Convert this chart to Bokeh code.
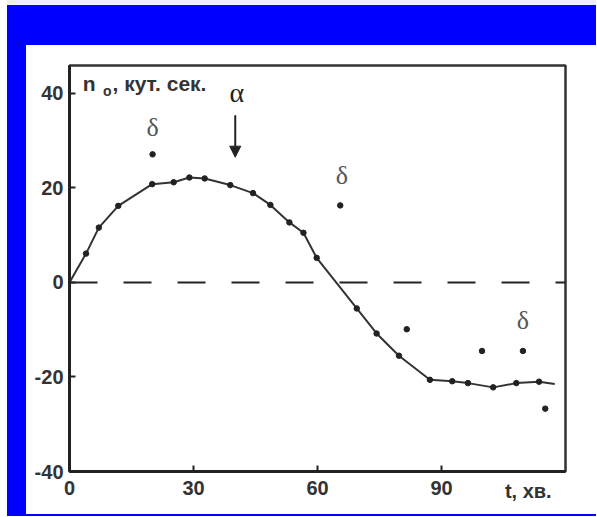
from bokeh.plotting import figure
from bokeh.models import Range1d, FixedTicker, Span, Label, Arrow, NormalHead, Div, LinearAxis
from bokeh.layouts import column, row
from bokeh.embed import file_html
from bokeh.resources import INLINE

# main series (points on the fitted curve), t in minutes, n0 in arc seconds
t_main = [4.0, 7.1, 11.8, 20.0, 25.2, 29.0, 32.7, 38.9, 44.4, 48.6, 53.2, 56.6, 59.8,
          69.5, 74.3, 79.7, 87.2, 92.6, 96.4, 102.5, 108.1, 113.6]
n_main = [6.1, 11.6, 16.2, 20.8, 21.2, 22.2, 22.0, 20.6, 18.9, 16.4, 12.7, 10.5, 5.2,
          -5.5, -10.8, -15.5, -20.6, -20.9, -21.3, -22.2, -21.3, -21.0]
# outlying points
t_out = [20.1, 65.5, 81.6, 99.8, 109.7, 115.1]
n_out = [27.1, 16.3, -9.9, -14.5, -14.5, -26.7]
# fitted curve
curve_t = [0.0] + t_main + [117.4]
curve_n = [0.0] + n_main + [-21.5]

x_ticks = [0, 30, 60, 90]
y_ticks = [-40, -20, 0, 20, 40]
y_tick_labels = {-40: "-40", -20: "-20"}
x_title = "t, хв."
x_title_pos = 111
y_title = "n"
y_title_sub = "o"
y_title_rest = ", кут. сек."

BLUE = "#0000ff"
INK = "#222222"
TXT = "#333333"
SANS = "Liberation Sans"
SERIF = "Liberation Serif"

p = figure(width=570, height=469, output_backend="svg", toolbar_location=None,
           x_range=Range1d(0, 120), y_range=Range1d(-40, 45.9),
           min_border_left=43, min_border_right=31, min_border_top=20, min_border_bottom=43)
p.background_fill_color = "white"
p.border_fill_color = "white"
p.outline_line_color = "#333333"
p.outline_line_width = 2.5
p.xgrid.visible = False
p.ygrid.visible = False

for ax in (p.xaxis[0], p.yaxis[0]):
    ax.axis_line_color = INK
    ax.axis_line_width = 3
    ax.major_tick_line_color = INK
    ax.major_tick_line_width = 2
    ax.major_tick_in = 6
    ax.major_tick_out = 0
    ax.minor_tick_line_color = None
    ax.major_label_text_font = SANS
    ax.major_label_text_font_style = "bold"
    ax.major_label_text_font_size = "20px"
    ax.major_label_text_color = TXT
p.xaxis.ticker = FixedTicker(ticks=x_ticks)
p.yaxis.ticker = FixedTicker(ticks=y_ticks)
p.yaxis.major_label_overrides = y_tick_labels
p.xaxis.major_label_standoff = 9
p.yaxis.major_label_standoff = 6

# x-axis title set on the same row as the tick labels (second axis pulled up)
title_axis = LinearAxis(ticker=FixedTicker(ticks=[x_title_pos]),
                        major_label_overrides={x_title_pos: x_title},
                        axis_line_color=None, major_tick_line_color=None,
                        minor_tick_line_color=None, major_tick_in=0, major_tick_out=0,
                        major_label_standoff=-18, major_label_text_font=SANS,
                        major_label_text_font_style="bold", major_label_text_font_size="20px",
                        major_label_text_color=TXT)
p.add_layout(title_axis, "below")

p.add_layout(Span(location=0, dimension="width", line_color=INK, line_width=2,
                  line_dash="28 26"))

p.line(curve_t, curve_n, line_color="#333333", line_width=2)
p.scatter(t_main, n_main, size=5.5, color=INK)
p.scatter(t_out, n_out, size=5.5, color=INK)

# annotations
p.add_layout(Label(x=3.2, y=42.1, text=y_title, text_font=SANS, text_font_style="bold",
                   text_font_size="21px", text_color=TXT, text_baseline="middle"))
p.add_layout(Label(x=8.1, y=40.4, text=y_title_sub, text_font=SANS, text_font_style="bold",
                   text_font_size="14px", text_color=TXT, text_baseline="middle"))
p.add_layout(Label(x=10.4, y=42.1, text=y_title_rest, text_font=SANS, text_font_style="bold",
                   text_font_size="21px", text_color=TXT, text_baseline="middle"))

for dx, dy in [(20.1, 32.8), (65.9, 22.7), (109.7, -8.1)]:
    p.add_layout(Label(x=dx, y=dy, text="δ", text_font=SERIF, text_font_size="26px",
                       text_color="#555555", text_align="center", text_baseline="middle"))
p.add_layout(Label(x=40.5, y=40.2, text="α", text_font=SERIF, text_font_size="28px",
                   text_color=INK, text_align="center", text_baseline="middle"))
p.add_layout(Arrow(x_start=40.1, y_start=35.4, x_end=40.1, y_end=26.5, line_color=INK,
                   line_width=2,
                   end=NormalHead(size=11, fill_color=INK, line_color=INK)))

gap_left = Div(width=7, height=516, margin=0, styles={"background-color": "white"})
top_light = Div(width=589, height=5, margin=0, styles={"background-color": "#eeeeff"})
top_band = Div(width=589, height=40, margin=0, styles={"background-color": BLUE})
left_band = Div(width=19, height=469, margin=0, styles={"background-color": BLUE})
bottom_band = Div(width=589, height=2, margin=0, styles={"background-color": BLUE})
layout = row(gap_left,
             column(top_light, top_band, row(left_band, p, spacing=0), bottom_band, spacing=0),
             spacing=0)

open("out.html", "w").write(file_html(layout, INLINE))
